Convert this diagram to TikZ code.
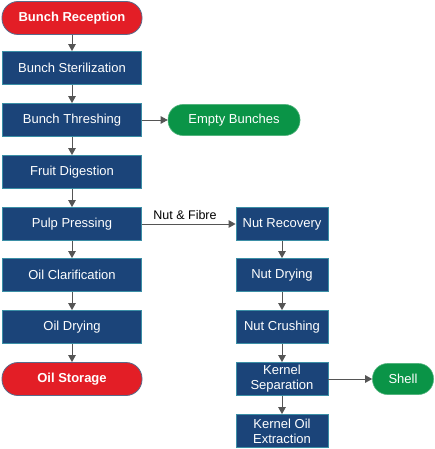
\documentclass[tikz,border=0pt]{standalone}
\usepackage{fontspec}
\setmainfont{Liberation Sans}
\usetikzlibrary{arrows.meta}

\definecolor{stepblue}{HTML}{1B4479}
\definecolor{stepedge}{HTML}{3B8FA6}
\definecolor{endred}{HTML}{E31E26}
\definecolor{endedge}{HTML}{5A6A8A}
\definecolor{sidegreen}{HTML}{0A9447}
\definecolor{flowgrey}{HTML}{555555}

\begin{document}
\begin{tikzpicture}[x=1pt, y=-1pt,
  stepbox/.style={draw=stepedge, fill=stepblue, text=white, line width=0.8pt,
    minimum height=33pt, inner sep=1pt, align=center, font=\fontsize{13}{15}\selectfont},
  termbox/.style={draw=endedge, fill=endred, text=white, rounded corners=16pt, line width=0.8pt,
    minimum height=33pt, minimum width=140pt, font=\bfseries\fontsize{13}{15}\selectfont},
  sidebox/.style={draw=sidegreen!70!white, fill=sidegreen, text=white, rounded corners=15pt, line width=0.6pt,
    minimum height=31pt, font=\fontsize{13}{15}\selectfont},
  flow/.style={draw=flowgrey, line width=0.9pt, -{Triangle[length=7pt,width=7.5pt]}}
]

% ---------------------------
% Page frame (keeps the margins of the picture)
% ---------------------------
\useasboundingbox (0,0) rectangle (435,449);

% ---------------------------
% Main line (left column)
% ---------------------------
\node[termbox] (reception) at (72,18) {Bunch Reception};
\node[stepbox, minimum width=139pt] (steril)  at (72,68)  {Bunch Sterilization};
\node[stepbox, minimum width=139pt] (thresh)  at (72,120) {Bunch Threshing};
\node[stepbox, minimum width=139pt] (digest)  at (72,172) {Fruit Digestion};
\node[stepbox, minimum width=139pt] (press)   at (72,224) {Pulp Pressing};
\node[stepbox, minimum width=139pt] (clarif)  at (72,275) {Oil Clarification};
\node[stepbox, minimum width=139pt] (oildry)  at (72,327) {Oil Drying};
\node[termbox] (storage) at (72,379) {Oil Storage};

% side output
\node[sidebox, minimum width=132pt] (empty) at (234,120) {Empty Bunches};

% ---------------------------
% Nut line (right column)
% ---------------------------
\node[stepbox, minimum width=92pt] (nutrec)  at (282,224) {Nut Recovery};
\node[stepbox, minimum width=92pt] (nutdry)  at (282,275) {Nut Drying};
\node[stepbox, minimum width=92pt] (nutcrush) at (282,327) {Nut Crushing};
\node[stepbox, minimum width=92pt] (kernsep) at (282,379) {Kernel\\Separation};
\node[stepbox, minimum width=92pt] (kernoil) at (282,431) {Kernel Oil\\Extraction};

\node[sidebox, minimum width=61pt] (shell) at (403,379) {Shell};

% ---------------------------
% Connectors
% ---------------------------
\draw[flow] (reception) -- (steril);
\draw[flow] (steril) -- (thresh);
\draw[flow] (thresh) -- (digest);
\draw[flow] (digest) -- (press);
\draw[flow] (press) -- (clarif);
\draw[flow] (clarif) -- (oildry);
\draw[flow] (oildry) -- (storage);

\draw[flow] (thresh) -- (empty);
\draw[flow] (press) -- node[pos=0.46, above=1pt, font=\fontsize{12.5}{15}\selectfont] {Nut \& Fibre} (nutrec);

\draw[flow] (nutrec) -- (nutdry);
\draw[flow] (nutdry) -- (nutcrush);
\draw[flow] (nutcrush) -- (kernsep);
\draw[flow] (kernsep) -- (kernoil);
\draw[flow] (kernsep) -- (shell);

\end{tikzpicture}
\end{document}
